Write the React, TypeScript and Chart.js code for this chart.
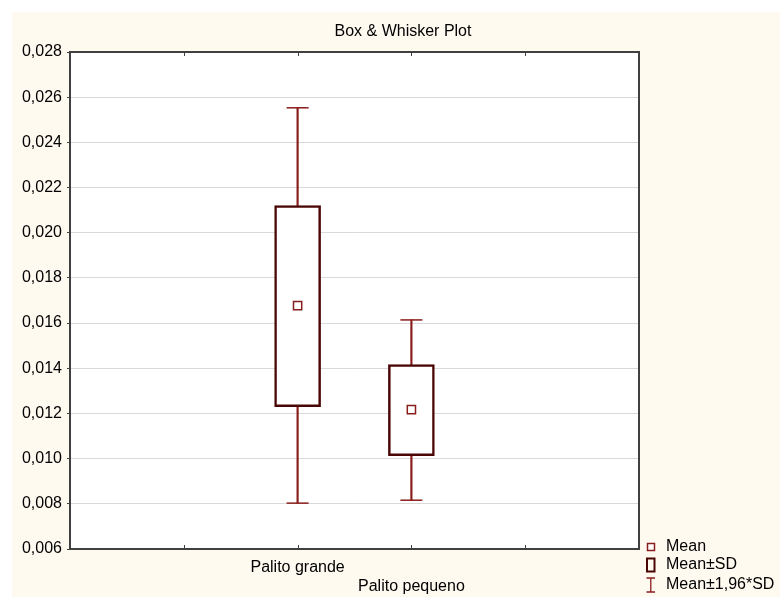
import React, { useEffect, useRef } from 'react';
import { Chart, registerables } from 'chart.js';

Chart.register(...registerables);

const categories = ['Palito grande', 'Palito pequeno'];
const categoryPositions = [2, 3];
const means = [0.01677, 0.01217];
const sdLower = [0.0123, 0.01013];
const sdUpper = [0.0212, 0.01416];
const ciLower = [0.00803, 0.00816];
const ciUpper = [0.02553, 0.01614];
const yMin = 0.006;
const yMax = 0.028;
const yStep = 0.002;
const xMin = 0;
const xMax = 5;
const titleText = 'Box & Whisker Plot';
const legendLabels = ['Mean', 'Mean±SD', 'Mean±1,96*SD'];

const FONT = '"Liberation Sans", Arial, sans-serif';
const BOX_COLOR = '#4a0505';
const WHISKER_COLOR = '#8b1c1c';
const FRAME_COLOR = '#404040';

const W = 768;
const H = 585;

const decorPlugin = {
  id: 'decor',
  beforeDatasetsDraw(chart: any) {},
  beforeDraw(chart: any) {
    const { ctx, chartArea } = chart;
    ctx.save();
    ctx.fillStyle = '#ffffff';
    ctx.fillRect(chartArea.left, chartArea.top, chartArea.right - chartArea.left, chartArea.bottom - chartArea.top);
    ctx.restore();
  },
  afterDatasetsDraw(chart: any) {
    const { ctx, chartArea, scales } = chart;
    ctx.save();
    // frame
    ctx.strokeStyle = FRAME_COLOR;
    ctx.lineWidth = 2;
    ctx.strokeRect(chartArea.left, chartArea.top, chartArea.right - chartArea.left, chartArea.bottom - chartArea.top);
    // inner ticks on top and bottom
    ctx.lineWidth = 1;
    for (let v = xMin + 1; v < xMax; v++) {
      const px = Math.round(scales.x.getPixelForValue(v)) + 0.5;
      ctx.beginPath();
      ctx.moveTo(px, chartArea.bottom);
      ctx.lineTo(px, chartArea.bottom - 4);
      ctx.moveTo(px, chartArea.top);
      ctx.lineTo(px, chartArea.top + 4);
      ctx.stroke();
    }
    ctx.restore();
  },
  afterDraw(chart: any) {
    const { ctx } = chart;
    ctx.save();
    ctx.fillStyle = '#000000';
    ctx.font = `16px ${FONT}`;
    ctx.textBaseline = 'middle';
    ctx.textAlign = 'center';
    ctx.fillText(titleText, 391, 20);

    // legend
    ctx.textAlign = 'left';
    const textX = 654;
    const rows = [535, 553, 573];
    // Mean icon
    ctx.fillStyle = '#ffffff';
    ctx.strokeStyle = WHISKER_COLOR;
    ctx.lineWidth = 1.5;
    ctx.fillRect(635.5, rows[0] - 3.5, 7, 7);
    ctx.strokeRect(635.5, rows[0] - 3.5, 7, 7);
    // SD icon
    ctx.strokeStyle = BOX_COLOR;
    ctx.lineWidth = 2;
    ctx.strokeRect(635, rows[1] - 6.5, 7.5, 13);
    // whisker icon
    ctx.strokeStyle = WHISKER_COLOR;
    ctx.lineWidth = 1.3;
    ctx.beginPath();
    ctx.moveTo(638.8, rows[2] - 7);
    ctx.lineTo(638.8, rows[2] + 7);
    ctx.moveTo(634.5, rows[2] - 7);
    ctx.lineTo(643, rows[2] - 7);
    ctx.moveTo(634.5, rows[2] + 7);
    ctx.lineTo(643, rows[2] + 7);
    ctx.stroke();

    ctx.fillStyle = '#000000';
    legendLabels.forEach((l, i) => ctx.fillText(l, textX, rows[i]));
    ctx.restore();
  },
};

export default function App() {
  const ref = useRef<HTMLCanvasElement | null>(null);

  useEffect(() => {
    if (!ref.current) return;
    const chart = new Chart(ref.current, {
      type: 'bar',
      data: {
        datasets: [
          {
            type: 'line',
            label: 'Mean',
            data: categoryPositions.map((x, i) => ({ x, y: means[i] })),
            showLine: false,
            pointStyle: 'rect',
            pointRadius: 5.8,
            pointBackgroundColor: '#ffffff',
            pointBorderColor: WHISKER_COLOR,
            pointBorderWidth: 1.5,
            order: 0,
          } as any,
          {
            type: 'bar',
            label: 'Mean±SD',
            data: categoryPositions.map((x, i) => ({ x, y: [sdLower[i], sdUpper[i]] })),
            backgroundColor: '#ffffff',
            borderColor: BOX_COLOR,
            borderWidth: 2.5,
            borderSkipped: false,
            barThickness: 46,
            grouped: false,
            order: 1,
          } as any,
          {
            type: 'bar',
            label: 'Whisker',
            data: categoryPositions.map((x, i) => ({ x, y: [ciLower[i], ciUpper[i]] })),
            backgroundColor: WHISKER_COLOR,
            borderWidth: 0,
            barThickness: 1.5,
            grouped: false,
            order: 2,
          } as any,
          {
            type: 'line',
            label: 'Caps',
            data: [
              ...categoryPositions.map((x, i) => ({ x, y: ciLower[i] })),
              ...categoryPositions.map((x, i) => ({ x, y: ciUpper[i] })),
            ],
            showLine: false,
            pointStyle: 'line',
            pointRadius: 11,
            pointBorderColor: WHISKER_COLOR,
            pointBorderWidth: 1.5,
            order: 3,
          } as any,
        ],
      },
      options: {
        animation: false,
        responsive: false,
        events: [],
        layout: { padding: { top: 40, right: 141, left: 0, bottom: 0 } },
        plugins: {
          legend: { display: false },
          title: { display: false },
          tooltip: { enabled: false },
        },
        scales: {
          x: {
            type: 'linear',
            min: xMin,
            max: xMax,
            offset: false,
            border: { display: false },
            grid: { display: false, drawTicks: false, offset: false },
            afterFit: (s: any) => {
              s.height = 48;
            },
            ticks: {
              stepSize: 1,
              autoSkip: false,
              maxRotation: 0,
              minRotation: 0,
              padding: 9,
              color: '#000000',
              font: { family: FONT, size: 16, lineHeight: 1.2 },
              callback: (value: any) => {
                const idx = categoryPositions.indexOf(Number(value));
                if (idx < 0) return '';
                return idx % 2 === 1 ? ['', categories[idx]] : categories[idx];
              },
            },
          },
          y: {
            type: 'linear',
            min: yMin,
            max: yMax,
            border: { display: false },
            grid: {
              color: '#d9d9d9',
              lineWidth: 1,
              tickColor: FRAME_COLOR,
              tickLength: 3,
              drawTicks: true,
            },
            afterFit: (s: any) => {
              s.width = 58;
            },
            ticks: {
              stepSize: yStep,
              padding: 5,
              color: '#000000',
              font: { family: FONT, size: 16 },
              callback: (value: any) => Number(value).toFixed(3).replace('.', ','),
            },
          },
        },
      } as any,
      plugins: [decorPlugin],
    });
    return () => chart.destroy();
  }, []);

  return (
    <div
      style={{
        position: 'absolute',
        left: 12,
        top: 12,
        width: W,
        height: H,
        background: '#fffaf0',
      }}
    >
      <canvas ref={ref} width={W} height={H} style={{ display: 'block', width: W, height: H }} />
    </div>
  );
}
